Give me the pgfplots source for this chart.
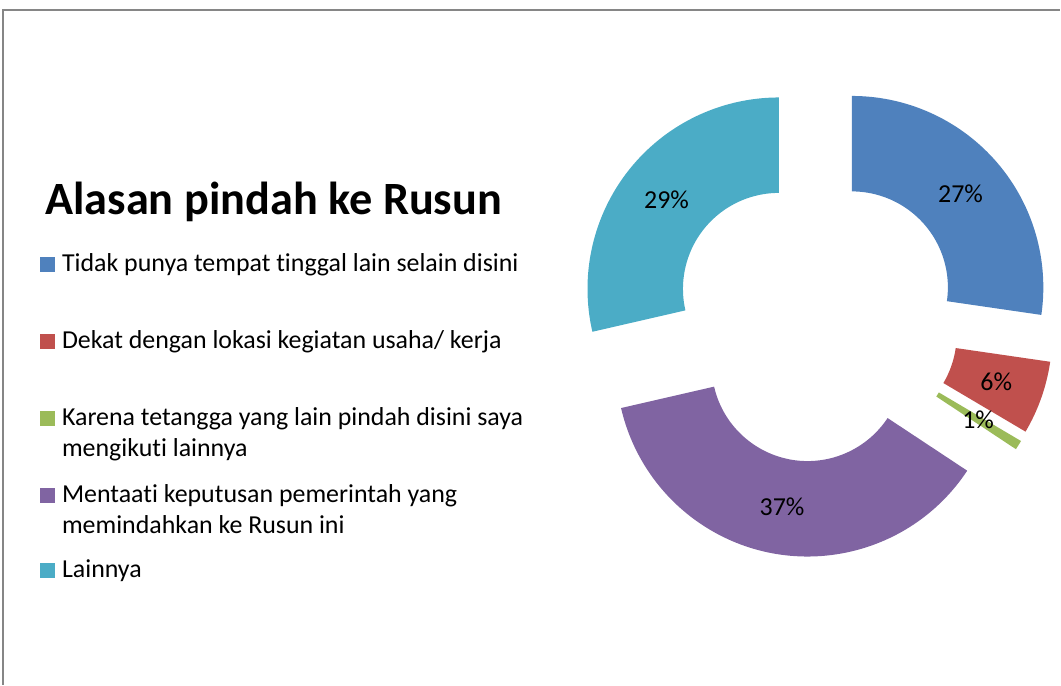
\documentclass[border=0pt]{standalone}
\usepackage{fontspec}
\setmainfont{Carlito}[Ligatures=NoCommon]
\usepackage{pgfplots}
\pgfplotsset{compat=1.18}
\usepackage{pgfplotstable}
\usetikzlibrary{calc}
\definecolor{c1}{HTML}{4F81BD}
\definecolor{c2}{HTML}{C0504D}
\definecolor{c3}{HTML}{9BBB59}
\definecolor{c4}{HTML}{8064A2}
\definecolor{c5}{HTML}{4BACC6}
\definecolor{framegray}{HTML}{868686}

\pgfplotstableread{
value col
27.3 c1
6.2 c2
0.8 c3
37.1 c4
28.6 c5
}\donutdata

\newcommand\legfont{\fontsize{12.95}{15.5}\selectfont}

\begin{document}
\begin{tikzpicture}
\begin{axis}[scale only axis, width=530.5pt, height=342.5pt,
  xmin=0, xmax=1061, ymin=0, ymax=685, hide axis, clip=false,
  /pgf/number format/assume math mode=true]
\path (axis cs:0,0) rectangle (axis cs:1061,685);
\draw[framegray, line width=0.6pt] (axis cs:3,0) -- (axis cs:3,675) -- (axis cs:1061,675);
\pgfplotsextra{%
  \xdef\acc{90}%
  \foreach \i in {0,...,4}{%
    \pgfplotstablegetelem{\i}{value}\of\donutdata \let\v\pgfplotsretval
    \pgfplotstablegetelem{\i}{col}\of\donutdata \let\col\pgfplotsretval
    \pgfmathsetmacro\sa{\acc}%
    \pgfmathsetmacro\ea{\acc - 3.6*\v}%
    \pgfmathsetmacro\ma{(\sa+\ea)/2}%
    \pgfmathsetmacro\cx{816.5 + 47.5*cos(\ma)}%
    \pgfmathsetmacro\cy{366.4 + 47.5*sin(\ma)}%
    \fill[\col] ($(axis cs:\cx,\cy)+(\sa:95.75pt)$) arc[start angle=\sa, end angle=\ea, radius=95.75pt]
      -- ($(axis cs:\cx,\cy)+(\ea:48pt)$) arc[start angle=\ea, end angle=\sa, radius=48pt] -- cycle;
    \node[font=\legfont, inner sep=0pt] at ($(axis cs:\cx,\cy)+(\ma:71.875pt)$) {\pgfmathprintnumber[fixed,precision=0,assume math mode=true]{\v}\%};
    \xdef\acc{\ea}%
  }%
}
% title
\node[anchor=base west, inner sep=0pt, font=\fontsize{23.15}{27}\selectfont\bfseries] at (axis cs:45,470) {Alasan pindah ke Rusun};
% legend
\fill[c1] (axis cs:40,413.3) rectangle (axis cs:55,428.3);
\node[anchor=base west, inner sep=0pt, font=\legfont] at (axis cs:61.7,413.3) {Tidak punya tempat tinggal lain selain disini};
\fill[c2] (axis cs:40,336) rectangle (axis cs:55,351);
\node[anchor=base west, inner sep=0pt, font=\legfont] at (axis cs:61.7,336) {Dekat dengan lokasi kegiatan usaha/ kerja};
\fill[c3] (axis cs:40,259) rectangle (axis cs:55,274);
\node[anchor=base west, inner sep=0pt, font=\legfont] at (axis cs:61.7,259) {Karena tetangga yang lain pindah disini saya};
\node[anchor=base west, inner sep=0pt, font=\legfont] at (axis cs:61.7,228) {mengikuti lainnya};
\fill[c4] (axis cs:40,182) rectangle (axis cs:55,197);
\node[anchor=base west, inner sep=0pt, font=\legfont] at (axis cs:61.7,182) {Mentaati keputusan pemerintah yang};
\node[anchor=base west, inner sep=0pt, font=\legfont] at (axis cs:61.7,151) {memindahkan ke Rusun ini};
\fill[c5] (axis cs:40,106.7) rectangle (axis cs:55,121.7);
\node[anchor=base west, inner sep=0pt, font=\legfont] at (axis cs:61.7,106.7) {Lainnya};
\end{axis}
\end{tikzpicture}
\end{document}
